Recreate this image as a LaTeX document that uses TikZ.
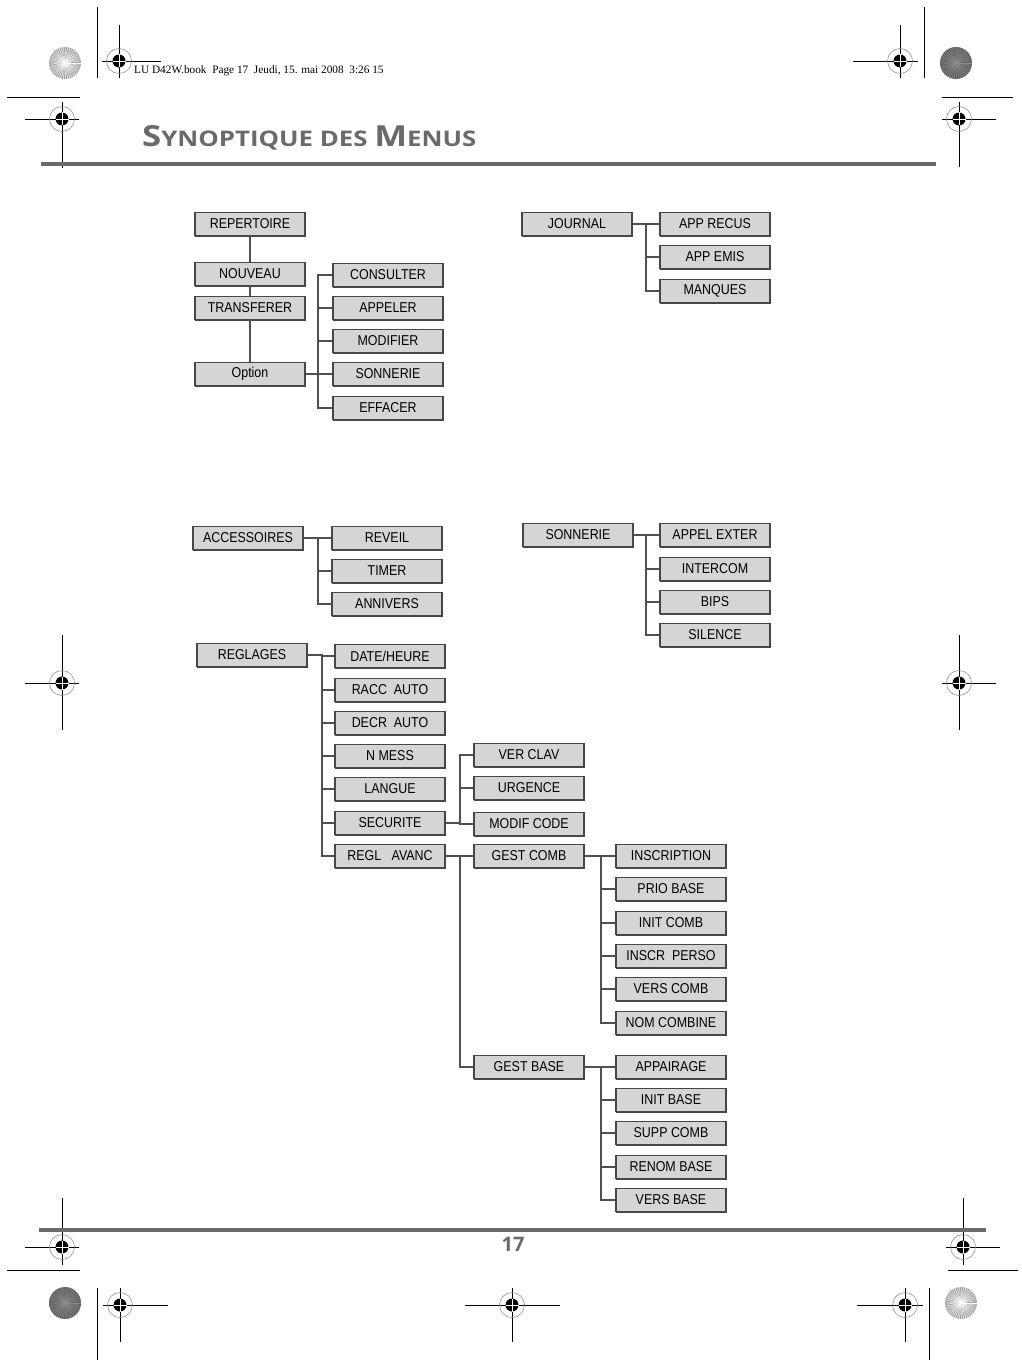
\documentclass[tikz,border=0pt]{standalone}
\usepackage{fontspec}
\setmainfont{Liberation Sans}
\newfontfamily\menufont[FakeStretch=0.87]{Liberation Sans}
\newfontfamily\titrefont[FakeStretch=1.2]{Open Sans}
\newfontfamily\foliofont{Open Sans}
\newfontfamily\entetefont{Liberation Serif}
\usetikzlibrary{calc}

\definecolor{grisbord}{HTML}{474747}
\definecolor{grisfond}{HTML}{D5D5D5}
\definecolor{grislien}{HTML}{505050}
\definecolor{gristitre}{HTML}{6A6A6A}

\tikzset{
  boite/.style={draw=grisbord, fill=grisfond, line width=1.1pt, minimum width=110pt,
    minimum height=23pt, inner sep=0pt, font=\menufont\fontsize{14.3}{14}\selectfont,
    preaction={draw=grisbord, line width=1.1pt, transform canvas={shift={(0.8pt,-0.8pt)}}}},
  lien/.style={draw=grislien, line width=1.1pt}
}

% repere de coupe : x, y, gauche, droite, haut, bas
\newcommand{\repere}[6]{%
  \draw[line width=0.9pt] ({#1-#3},#2) -- ({#1+#4},#2);
  \draw[line width=0.9pt] (#1,{#2-#5}) -- (#1,{#2+#6});
  \draw[gray, line width=0.5pt] (#1,#2) circle (12.5);
  \fill (#1,#2) circle (6.5);
  \draw[white, line width=0.8pt] ({#1-6.5},#2) -- ({#1+6.5},#2) (#1,{#2-6.5}) -- (#1,{#2+6.5});
}
% rosace : x, y, fond, rayons
\newcommand{\rosace}[4]{%
  \fill[#3] (#1,#2) circle (16);
  \foreach \a in {0,8,...,352}
    \draw[#4, line width=0.4pt] (#1,#2) -- ++(\a:16);
}

\begin{document}
\begin{tikzpicture}[x=1pt, y=-1pt]
\useasboundingbox (0,0) rectangle (1021,1367);

% Reperes d'impression
\rosace{65}{63}{black!35}{white}
\draw[line width=0.9pt] (97,7) -- (97,78);
\repere{119}{61}{17}{42}{36}{17}
\draw[line width=0.9pt] (7,97) -- (80,97);
\repere{62}{119}{37}{17}{17}{49}
\repere{900}{61}{47}{18}{36}{17}
\draw[line width=0.9pt] (924,7) -- (924,78);
\rosace{956}{63}{black!62}{black!45}
\draw[line width=0.9pt] (942,97) -- (1013,97);
\repere{959}{119}{17}{37}{17}{48}
\repere{62}{683}{37}{17}{48}{47}
\repere{959}{683}{17}{37}{48}{47}
\repere{62}{1247}{37}{17}{49}{18}
\draw[line width=0.9pt] (7,1270) -- (80,1270);
\rosace{65}{1303}{black!62}{black!45}
\draw[line width=0.9pt] (97,1288) -- (97,1360);
\repere{120}{1305}{17}{48}{17}{37}
\repere{512}{1305}{47}{48}{17}{37}
\repere{905}{1305}{48}{18}{17}{37}
\draw[line width=0.9pt] (929,1288) -- (929,1360);
\rosace{961}{1303}{black!35}{white}
\draw[line width=0.9pt] (948,1270) -- (1018,1270);
\repere{963}{1247}{17}{37}{49}{18}

% En-tete
\node[anchor=base west, inner sep=0pt, font=\entetefont\fontsize{11.3}{12}\selectfont] (entete) at (134,74)
  {LU D42W.book\ \ Page 17\ \ Jeudi, 15. mai 2008\ \ 3:26 15};
\node[anchor=base west, inner sep=0pt, text=gristitre, font=\titrefont\bfseries] (titre) at (142,147)
  {\fontsize{29}{29}\selectfont S\fontsize{21.5}{22}\selectfont YNOPTIQUE DES
   \fontsize{29}{29}\selectfont M\fontsize{21.5}{22}\selectfont ENUS};
\fill[gristitre] (41,162) rectangle (936,166);

% Pied de page
\fill[gristitre] (39,1228) rectangle (986,1232);
\node[text=gristitre, inner sep=0pt, font=\foliofont\bfseries\fontsize{20}{20}\selectfont] (folio) at (513,1244) {17};

% Repertoire
\node[boite] (rep) at (250,224) {REPERTOIRE};
\node[boite] (nouv) at (250,274) {NOUVEAU};
\node[boite] (transf) at (250,308) {TRANSFERER};
\node[boite] (opt) at (250,374) {Option};
\node[boite] (consu) at (388,275) {CONSULTER};
\node[boite] (appel) at (388,308) {APPELER};
\node[boite] (modif) at (388,341) {MODIFIER};
\node[boite] (sonopt) at (388,374) {SONNERIE};
\node[boite] (effac) at (388,408) {EFFACER};
\coordinate (bOpt) at (318,0);
\draw[lien] (rep) -- (nouv);
\draw[lien] (nouv) -- (transf);
\draw[lien] (transf) -- (opt);
\draw[lien] (opt.east) -- (bOpt |- opt.east);
\draw[lien] (consu.west) -| (bOpt |- effac.west) -- (effac.west);
\foreach \n in {appel,modif,sonopt}
  \draw[lien] (bOpt |- \n.west) -- (\n.west);

% Journal
\node[boite] (jour) at (577,224) {JOURNAL};
\node[boite] (recus) at (715,224) {APP RECUS};
\node[boite] (emis) at (715,257) {APP EMIS};
\node[boite] (manq) at (715,291) {MANQUES};
\coordinate (bJour) at (646,0);
\draw[lien] (jour.east) -- (recus.west);
\draw[lien] (bJour |- recus.west) |- (manq.west);
\draw[lien] (bJour |- emis.west) -- (emis.west);

% Accessoires
\node[boite] (acce) at (248,538) {ACCESSOIRES};
\node[boite] (reveil) at (387,538) {REVEIL};
\node[boite] (timer) at (387,571) {TIMER};
\node[boite] (anniv) at (387,604) {ANNIVERS};
\coordinate (bAcc) at (318,0);
\draw[lien] (acce.east) -- (reveil.west);
\draw[lien] (bAcc |- reveil.west) |- (anniv.west);
\draw[lien] (bAcc |- timer.west) -- (timer.west);

% Sonnerie
\node[boite] (sonn) at (578,535) {SONNERIE};
\node[boite] (exter) at (715,535) {APPEL EXTER};
\node[boite] (inter) at (715,569) {INTERCOM};
\node[boite] (bips) at (715,602) {BIPS};
\node[boite] (silen) at (715,635) {SILENCE};
\coordinate (bSon) at (646,0);
\draw[lien] (sonn.east) -- (exter.west);
\draw[lien] (bSon |- exter.west) |- (silen.west);
\foreach \n in {inter,bips}
  \draw[lien] (bSon |- \n.west) -- (\n.west);

% Reglages
\node[boite] (regl) at (252,655) {REGLAGES};
\node[boite] (date) at (390,656) {DATE/HEURE};
\node[boite] (racc) at (390,690) {RACC\ \ AUTO};
\node[boite] (decr) at (390,723) {DECR\ \ AUTO};
\node[boite] (mess) at (390,756) {N MESS};
\node[boite] (lang) at (390,789) {LANGUE};
\node[boite] (secu) at (390,823) {SECURITE};
\node[boite] (avanc) at (390,856) {REGL\ \ \ AVANC};
\coordinate (bRegl) at (322,0);
\draw[lien] (regl.east) -- (bRegl |- regl.east) |- (date.west);
\draw[lien] (bRegl |- date.west) |- (avanc.west);
\foreach \n in {racc,decr,mess,lang,secu}
  \draw[lien] (bRegl |- \n.west) -- (\n.west);

% Securite
\node[boite] (clav) at (529,755) {VER CLAV};
\node[boite] (urge) at (529,788) {URGENCE};
\node[boite] (code) at (529,824) {MODIF CODE};
\coordinate (bSec) at (460,0);
\draw[lien] (secu.east) -- (bSec |- secu.east);
\draw[lien] (clav.west) -| (bSec |- code.west) -- (code.west);
\draw[lien] (bSec |- urge.west) -- (urge.west);

% Reglages avances
\node[boite] (comb) at (529,856) {GEST COMB};
\node[boite] (base) at (529,1067) {GEST BASE};
\coordinate (bAv) at (460,0);
\draw[lien] (avanc.east) -- (comb.west);
\draw[lien] (bAv |- comb.west) |- (base.west);

% Gestion combine
\node[boite] (insc) at (671,856) {INSCRIPTION};
\node[boite] (prio) at (671,889) {PRIO BASE};
\node[boite] (initc) at (671,923) {INIT COMB};
\node[boite] (perso) at (671,956) {INSCR\ \ PERSO};
\node[boite] (versc) at (671,989) {VERS COMB};
\node[boite] (nomc) at (671,1023) {NOM COMBINE};
\coordinate (bComb) at (601,0);
\draw[lien] (comb.east) -- (insc.west);
\draw[lien] (bComb |- insc.west) |- (nomc.west);
\foreach \n in {prio,initc,perso,versc}
  \draw[lien] (bComb |- \n.west) -- (\n.west);

% Gestion base
\node[boite] (appai) at (671,1067) {APPAIRAGE};
\node[boite] (initb) at (671,1100) {INIT BASE};
\node[boite] (supp) at (671,1133) {SUPP COMB};
\node[boite] (renom) at (671,1167) {RENOM BASE};
\node[boite] (versb) at (671,1200) {VERS BASE};
\coordinate (bBase) at (601,0);
\draw[lien] (base.east) -- (appai.west);
\draw[lien] (bBase |- appai.west) |- (versb.west);
\foreach \n in {initb,supp,renom}
  \draw[lien] (bBase |- \n.west) -- (\n.west);
\end{tikzpicture}
\end{document}
